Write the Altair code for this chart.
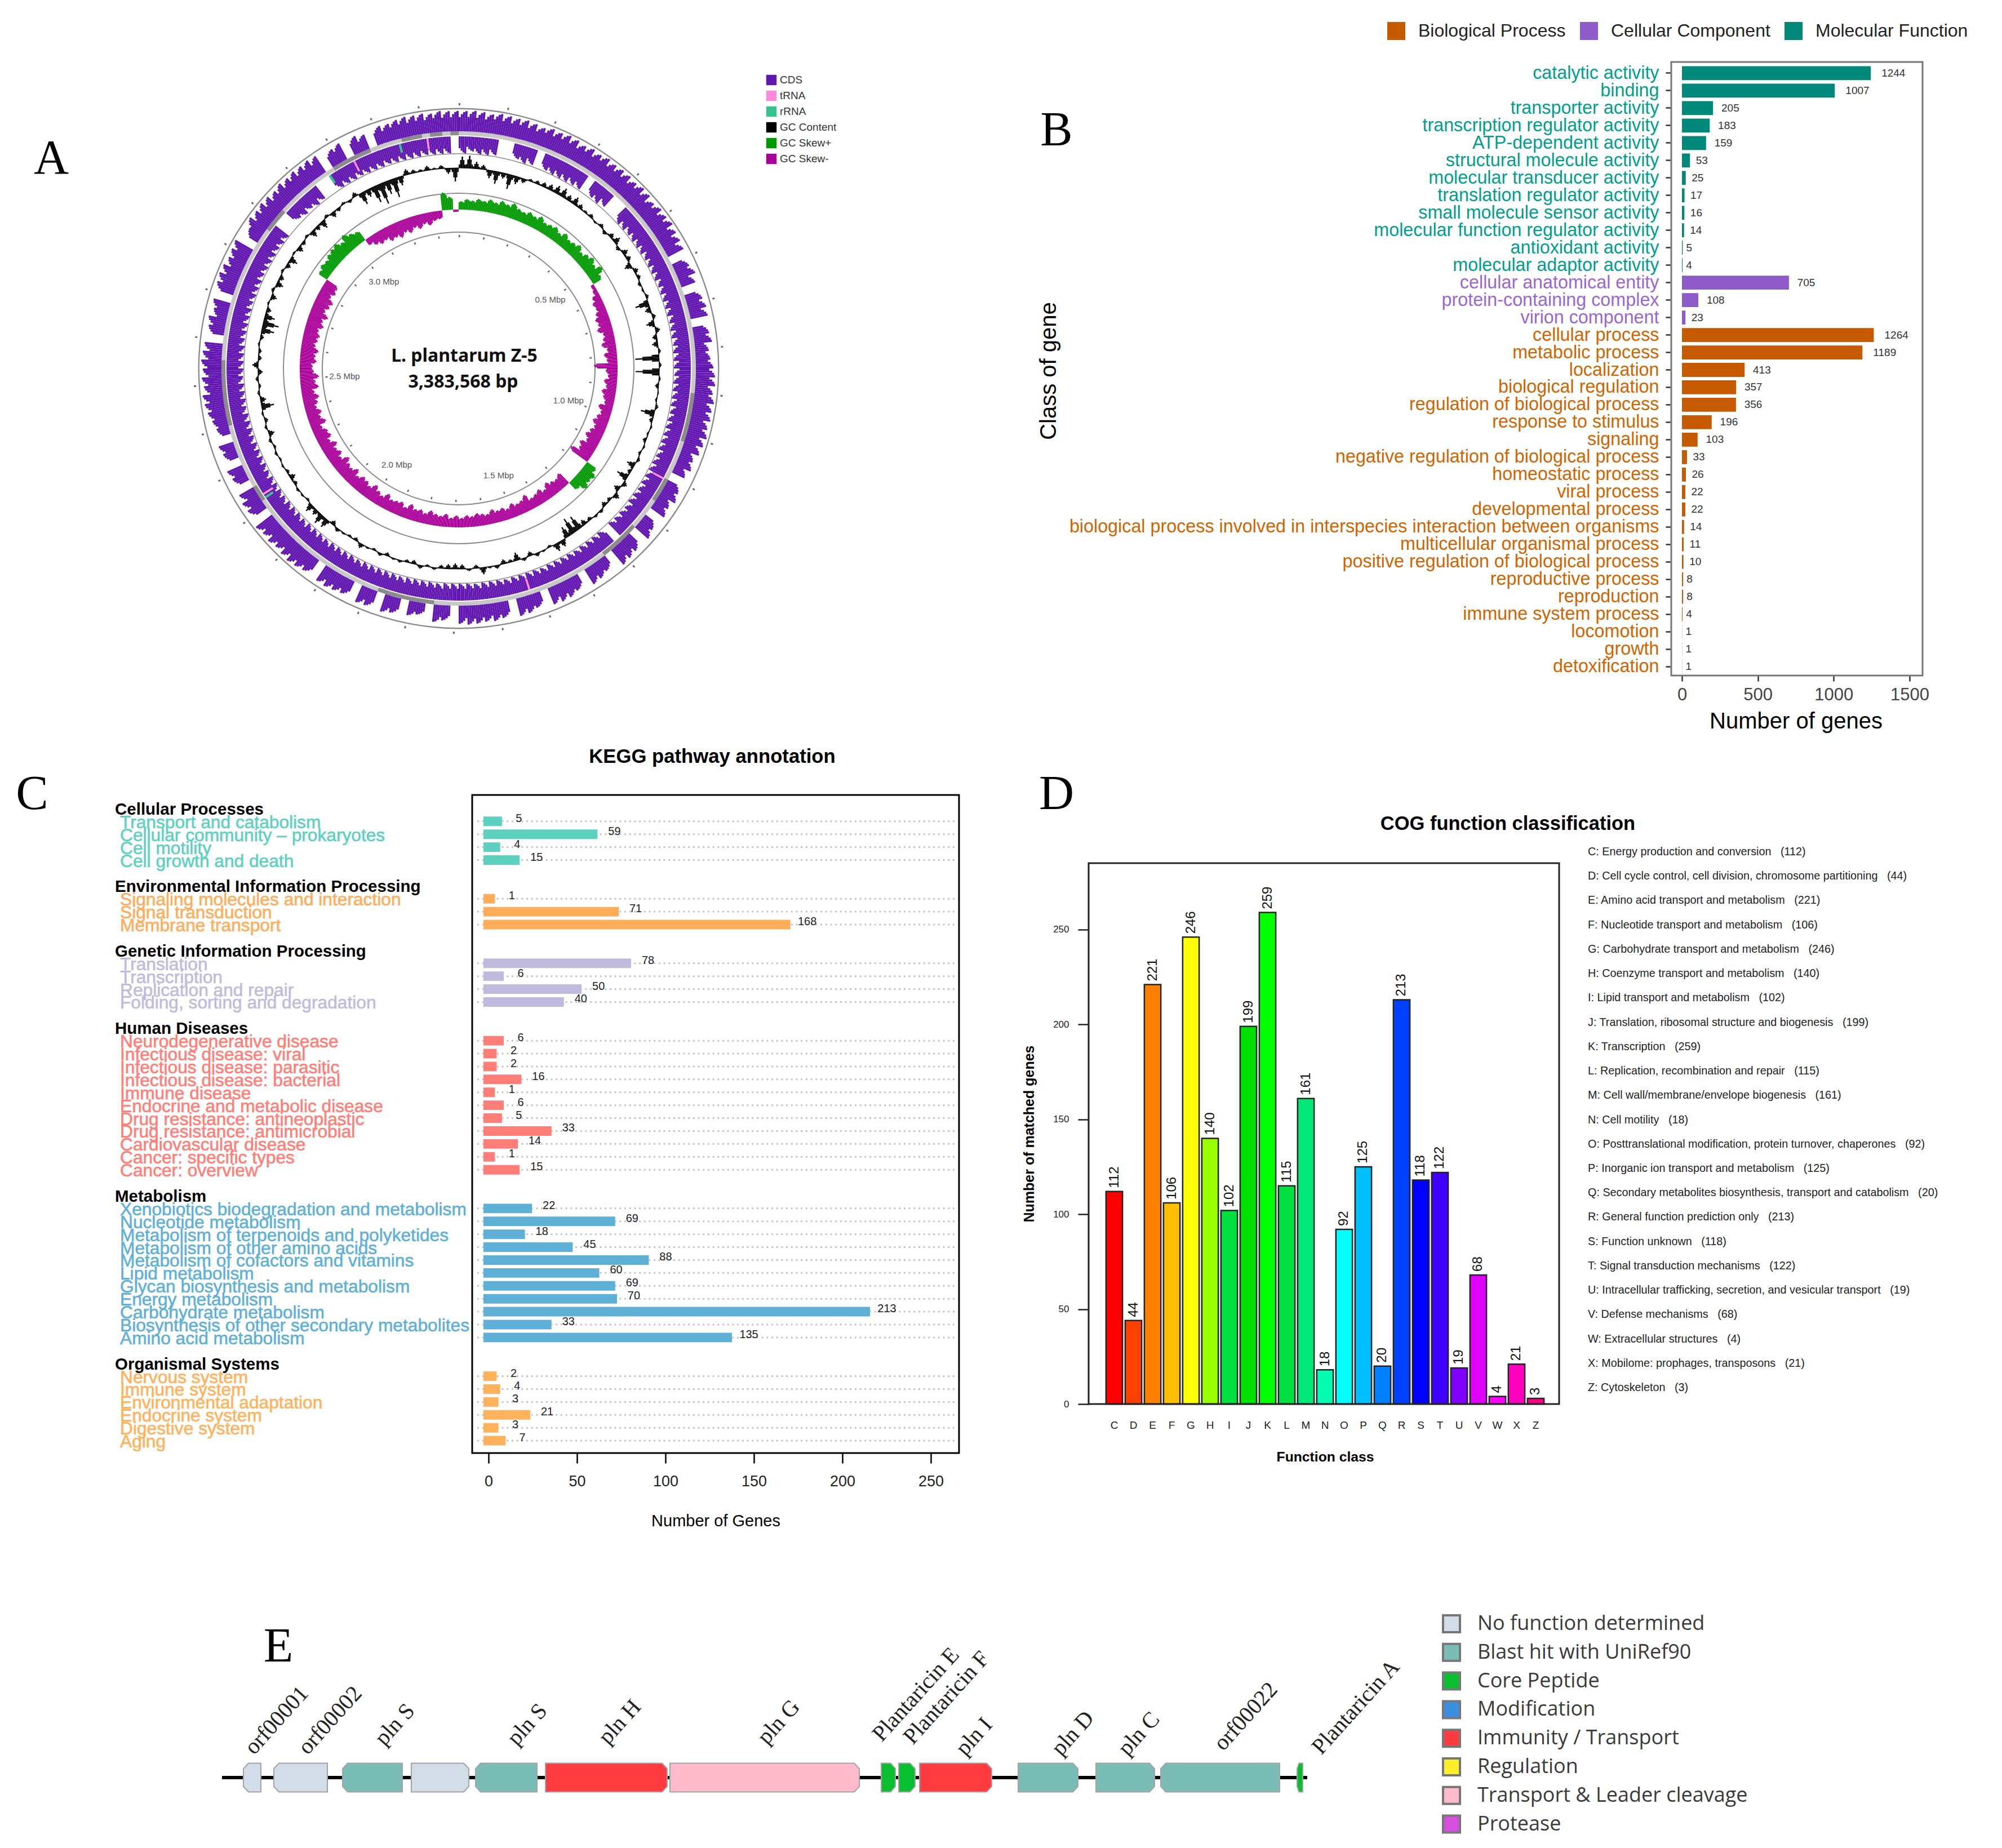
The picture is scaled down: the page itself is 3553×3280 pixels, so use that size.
import altair as alt
import pandas as pd

W, H = 3537, 3264
def P(v):
    return v - 8

SANS = "Liberation Sans"
SERIF = "Liberation Serif"

# ---------------- Panel A values (degrees clockwise from the origin)
cds_fwd = [36,37,36,34,37,36,35,36,34,32, 36,35,37,36,33,36,34,37,35,36, 36,34,37,36,32,36,35,37,34,33,
           31,0,27,32,26,0,29,32,31,0, 28,31,24,26,31,34,35,32,36,34, 35,33,36,34,32,26,29,24,0,27,
           31,26,29,0,26,31,0,30,32,34, 0,24,29,31,0,26,31,32,31,0, 26,31,32,0,29,32,31,33,34,32,
           0,27,31,0,22,26,0,29,32,0, 31,32,0,29,31,33,32,0,31,34, 36,34,32,35,33,36,0,31,32,29,
           0,26,29,0,24,27,0,22,26,31, 34,36,32,35,33,36,34,32,0,29, 32,26,31,0,34,36,35,32,34,36,
           0,26,36,34,36,35,33,36,34,36, 35,36,34,0,29,32,0,31,27,0, 32,31,34,36,35,36,34,37,36,36]
cds_rev = [30,26,30,30,28,0,0,26,30,28, 0,28,30,30,30,29,29,0,28,30, 26,0,0,30,30,29,30,30,30,29,
           30,30,30,29,30,30,30,30,29,30, 30,29,30,30,30,29,30,30,30,30, 29,30,30,30,30,30,29,30,30,30,
           30,29,30,30,28,29,29,30,0,30, 30,30,30,29,30,30,30,30,29,30, 30,30,30,29,30,30,30,29,30,30,
           30,30,29,30,30,30,30,29,30,30, 30,30,30,29,30,30,30,30,29,30, 30,30,29,30,30,30,29,30,30,30,
           29,30,30,30,30,29,30,30,30,29, 30,30,30,29,30,30,30,30,29,30, 30,30,30,29,30,30,30,29,30,30,
           30,29,30,30,0,0,24,28,26,30, 28,0,0,30,30,30,29,30,30,30, 29,30,30,30,30,29,30,30,30,0]
gc_content = [20,22,12,8,-14,-22,-10,-26,-14,-8, 4,6,8,10,14,16,10,14,8,4, 6,-3,6,-6,8,12,-6,10,8,-12,
              8,6,-5,-3,5,-24,-10,6,-14,8, -8,-10,4,-42,4,-42,3,-6,2,-3, 5,-24,-6,3,-3,-6,3,-4,5,-14,
              -6,-20,8,-10,10,-6,-8,5,4,-6, -10,-26,-30,-20,12,14,-4,3,6,-8, 5,-14,-5,-8,6,3,12,-6,4,-8,
              -10,-8,-6,4,-4,6,-7,-5,4,3, -6,5,-4,3,8,-6,-4,3,6,-8, 16,18,10,14,-4,3,4,-6,-10,-5,
              3,-3,4,-4,5,-10,4,-6,3,-22, -10,4,-4,5,-8,10,-6,-5,3,-6, -22,-28,-18,-8,3,-10,5,-12,-8,4,
              -8,-14,3,-10,-6,4,-12,-8,-14,5, -10,-6,4,-5,8,-22,-14,-30,-38,-24, -34,-16,10,6,4,8,3,6,-10,-24]
gc_skew = [14,18,16,20,18,22,19,24,21,26, 20,18,22,19,24,18,20,22,17,23, 18,20,24,17,22,26,20,28,18,-6,
           -8,-14,-18,-16,-20,-24,-22,-26,-18,-20, -24,-16,-22,-18,-40,-20,-16,-22,-18,-24,
           -20,-16,-24,-18,-22,-26,-20,-24,-28,-22, -30,-26,-38,20,26,24,28,18,-24,-20,
           -22,-26,-18,-24,-20,-18,-28,-22,-20,-24, -18,-22,-20,-24,-18,-20,-22,-18,-20,-16,
           -20,-16,-22,-18,-20,-24,-18,-22,-20,-26, -18,-24,-22,-20,-26,-18,-22,-28,-20,-24,
           -26,-20,-28,-22,-24,-30,-20,-26,-22,-28, -20,-26,-24,-18,-28,-22,-26,-20,-24,-28,
           -22,-30,-26,-32,-24,-22,-28,-26,-30,-24, -26,-28,-24,-30,-26,-32,-24,-28,-30,-22,
           -26,-24,18,22,20,24,26,28,22,30, 24,20,-12,-18,-22,-20,-26,-24,-28,-22,
           -26,-20,-24,-18,-22,-16,-14,30,22,-4]
trna_deg = [352, 333, 237, 162, 118]
rrna_deg = [345, 326, 236]
dark_backbone = [(328, 338), (346, 351), (353, 356), (358, 360), (306, 312), (256, 272),
                 (236, 240), (186, 200), (132, 142), (96, 108), (118, 124)]
scale_labels = ["0.5 Mbp", "1.0 Mbp", "1.5 Mbp", "2.0 Mbp", "2.5 Mbp", "3.0 Mbp"]
scale_mbp = [0.5, 1.0, 1.5, 2.0, 2.5, 3.0]
GENOME_MBP = 3.383568
kinds_a = ["CDS", "tRNA", "rRNA", "GC Content", "GC Skew+", "GC Skew-"]
colors_a = ["#6218B0", "#FF8ADC", "#35C48F", "#000000", "#009A00", "#AA0099"]

# ---------------- Panel B values
b_labels = ["catalytic activity","binding","transporter activity","transcription regulator activity",
    "ATP-dependent activity","structural molecule activity","molecular transducer activity",
    "translation regulator activity","small molecule sensor activity","molecular function regulator activity",
    "antioxidant activity","molecular adaptor activity","cellular anatomical entity","protein-containing complex",
    "virion component","cellular process","metabolic process","localization","biological regulation",
    "regulation of biological process","response to stimulus","signaling","negative regulation of biological process",
    "homeostatic process","viral process","developmental process",
    "biological process involved in interspecies interaction between organisms","multicellular organismal process",
    "positive regulation of biological process","reproductive process","reproduction","immune system process",
    "locomotion","growth","detoxification"]
b_values = [1244,1007,205,183,159,53,25,17,16,14,5,4,705,108,23,1264,1189,413,357,356,196,103,33,26,22,22,14,11,10,8,8,4,1,1,1]
b_groups = ["Molecular Function"]*12 + ["Cellular Component"]*3 + ["Biological Process"]*20
b_group_names = ["Biological Process", "Cellular Component", "Molecular Function"]
b_group_colors = ["#C55A00", "#8E5BC8", "#00897B"]

# ---------------- Panel C values
c_groups = [
 ("Cellular Processes", "#5DD0C0", ["Transport and catabolism","Cellular community \u2013 prokaryotes","Cell motility","Cell growth and death"], [5,59,4,15]),
 ("Environmental Information Processing", "#FFAD5B", ["Signaling molecules and interaction","Signal transduction","Membrane transport"], [1,71,168]),
 ("Genetic Information Processing", "#C0BBDD", ["Translation","Transcription","Replication and repair","Folding, sorting and degradation"], [78,6,50,40]),
 ("Human Diseases", "#FF7F78", ["Neurodegenerative disease","Infectious disease: viral","Infectious disease: parasitic","Infectious disease: bacterial","Immune disease","Endocrine and metabolic disease","Drug resistance: antineoplastic","Drug resistance: antimicrobial","Cardiovascular disease","Cancer: specific types","Cancer: overview"], [6,2,2,16,1,6,5,33,14,1,15]),
 ("Metabolism", "#5FB0D6", ["Xenobiotics biodegradation and metabolism","Nucleotide metabolism","Metabolism of terpenoids and polyketides","Metabolism of other amino acids","Metabolism of cofactors and vitamins","Lipid metabolism","Glycan biosynthesis and metabolism","Energy metabolism","Carbohydrate metabolism","Biosynthesis of other secondary metabolites","Amino acid metabolism"], [22,69,18,45,88,60,69,70,213,33,135]),
 ("Organismal Systems", "#FFB25C", ["Nervous system","Immune system","Environmental adaptation","Endocrine system","Digestive system","Aging"], [2,4,3,21,3,7]),
]

# ---------------- Panel D values
d_letters = list("CDEFGHIJKLMNOPQRSTUVWXZ")
d_values = [112,44,221,106,246,140,102,199,259,115,161,18,92,125,20,213,118,122,19,68,4,21,3]
d_colors = ["#FF0000","#FF4000","#FF8000","#FFBF00","#FFFF00","#99FF00","#00E040","#00E000","#00FF00","#00E040",
            "#00E878","#00FFB0","#00FFFF","#00BFFF","#0080FF","#0040FF","#0000FF","#4000FF","#8000FF","#DF00FF",
            "#FF00FF","#FF00BF","#FF0080"]
GAP = "\u00A0\u00A0\u00A0"
d_desc = ["C: Energy production and conversion"+GAP+"(112)",
 "D: Cell cycle control, cell division, chromosome partitioning"+GAP+"(44)",
 "E: Amino acid transport and metabolism"+GAP+"(221)","F: Nucleotide transport and metabolism"+GAP+"(106)",
 "G: Carbohydrate transport and metabolism"+GAP+"(246)","H: Coenzyme transport and metabolism"+GAP+"(140)",
 "I: Lipid transport and metabolism"+GAP+"(102)","J: Translation, ribosomal structure and biogenesis"+GAP+"(199)",
 "K: Transcription"+GAP+"(259)","L: Replication, recombination and repair"+GAP+"(115)",
 "M: Cell wall/membrane/envelope biogenesis"+GAP+"(161)","N: Cell motility"+GAP+"(18)",
 "O: Posttranslational modification, protein turnover, chaperones"+GAP+"(92)","P: Inorganic ion transport and metabolism"+GAP+"(125)",
 "Q: Secondary metabolites biosynthesis, transport and catabolism"+GAP+"(20)","R: General function prediction only"+GAP+"(213)",
 "S: Function unknown"+GAP+"(118)","T: Signal transduction mechanisms"+GAP+"(122)",
 "U: Intracellular trafficking, secretion, and vesicular transport"+GAP+"(19)","V: Defense mechanisms"+GAP+"(68)",
 "W: Extracellular structures"+GAP+"(4)","X: Mobilome: prophages, transposons"+GAP+"(21)","Z: Cytoskeleton"+GAP+"(3)"]

# ---------------- Panel E values
e_kinds = ["No function determined","Blast hit with UniRef90","Core Peptide","Modification","Immunity / Transport","Regulation","Transport & Leader cleavage","Protease"]
e_colors = ["#D3DCE9","#7ABCB6","#09BF2F","#3A8FE0","#FF3B3F","#FFEE2A","#FFBBCC","#D84FE0"]
e_start = [432,486,608,730,844,968,1189,1564,1595,1632,1807,1945,2060,2302]
e_end   = [463,581,714,832,953,1184,1525,1589,1624,1760,1913,2049,2271,2312]
e_strand = [-1,-1,-1,1,-1,1,1,1,1,1,1,1,-1,-1]
e_kind = [0,0,1,0,1,4,6,2,2,4,1,1,1,2]
e_label_names = ["orf00001","orf00002","pln S","pln S","pln H","pln G","Plantaricin E","Plantaricin F","pln I","pln D","pln C","orf00022","Plantaricin A"]
e_label_x = [451,546,682,917,1079,1361,1565,1620,1713,1883,2001,2171,2345]
e_label_lift = [39,39,55,55,57,57,62,57,37,37,37,46,39]

one = pd.DataFrame({"k": [0]})

def frame(x0, x1, y0, y1, color="black", sw=3):
    return alt.Chart(one).mark_rect(fillOpacity=0, stroke=color, strokeWidth=sw).encode(
        x=alt.value(P(x0)), x2=alt.value(P(x1)), y=alt.value(P(y0)), y2=alt.value(P(y1)))

def note(text, x, y, size, weight="normal", font=SANS, color="black", align="center", angle=0):
    return alt.Chart(one).mark_text(fontSize=size, fontWeight=weight, font=font, color=color, align=align,
                                    baseline="middle", angle=angle, x=P(x), y=P(y)).encode(text=alt.value(text))

# ---------------- Panel A
CX, CY = 814, 654
theta_scale = alt.Scale(domain=[0, 360], range=[0, 6.283185307])
rad_scale = alt.Scale(type="linear", domain=[0, 500], range=[0, 500])
rows = []
STEP = 2
SAW = [0.7, 0.85, 0.95, 1.0]          # a gene arrow's serrated edge
PEAK = [0.3, 0.7, 1.0, 0.7, 0.3]      # a sliding-window peak
JAG = [0.95, 1.05, 1.0, 0.9]          # the jagged GC-skew edge

def spread(values, shape, base, kind_of, inward=False):
    n = len(shape)
    for i, v in enumerate(values):
        if v == 0:
            continue
        for j, f in enumerate(shape):
            a = i*STEP + j*STEP/n
            b = a + STEP/n
            h = v*f
            rows.append(dict(a=a, b=b, r0=base, r1=(base-h) if inward else (base+h), kind=kind_of(v)))

spread(cds_fwd, SAW, 421, lambda v: "CDS")
spread(cds_rev, SAW, 412, lambda v: "CDS", inward=True)
spread(gc_content, PEAK, 356, lambda v: "GC Content")
spread(gc_skew, JAG, 282, lambda v: "GC Skew+" if v > 0 else "GC Skew-")
for d in trna_deg:
    rows.append(dict(a=d, b=d+0.5, r0=392, r1=412, kind="tRNA"))
for d in rrna_deg:
    rows.append(dict(a=d, b=d+0.6, r0=396, r1=412, kind="rRNA"))
arcs = pd.DataFrame(rows)

def arc_layer(df, **mark):
    return alt.Chart(df).mark_arc(x=P(CX), y=P(CY), **mark).encode(
        theta=alt.Theta("a:Q", scale=theta_scale),
        theta2="b:Q",
        radius=alt.Radius("r0:Q", scale=rad_scale),
        radius2="r1:Q")

rings = pd.DataFrame({"a": [0]*4, "b": [360]*4, "r0": [460, 380.5, 310, 241], "r1": [462.5, 382, 312, 243]})
base_ring = pd.DataFrame({"a": [0], "b": [360], "r0": [355.4], "r1": [356.6]})
backbone = pd.DataFrame({"a": [0], "b": [360], "r0": [414], "r1": [421]})
dark = pd.DataFrame({"a": [d[0] for d in dark_backbone], "b": [d[1] for d in dark_backbone],
                     "r0": 414, "r1": 421})
tick_deg = [round(k*0.1/GENOME_MBP*360, 2) for k in range(34)]
ticks_in = pd.DataFrame({"a": tick_deg, "b": [t+0.6 for t in tick_deg], "r0": 233, "r1": 237})
ticks_out = pd.DataFrame({"a": tick_deg, "b": [t+0.35 for t in tick_deg], "r0": 467, "r1": 471})
scale_text = pd.DataFrame({"t": scale_labels, "d": [m/GENOME_MBP*360 for m in scale_mbp], "r": 203})

a_panel = alt.layer(
    arc_layer(rings, color="#8A8A8A"),
    arc_layer(backbone, color="#C8C8C8"),
    arc_layer(dark, color="#8C8C8C"),
    arc_layer(ticks_in, color="#666666"),
    arc_layer(ticks_out, color="#666666"),
    arc_layer(base_ring, color="#000000"),
    alt.Chart(arcs).mark_arc(x=P(CX), y=P(CY)).encode(
        theta=alt.Theta("a:Q", scale=theta_scale),
        theta2="b:Q",
        radius=alt.Radius("r0:Q", scale=rad_scale),
        radius2="r1:Q",
        color=alt.Color("kind:N", scale=alt.Scale(domain=kinds_a, range=colors_a),
                        legend=alt.Legend(orient="none", legendX=P(1359), legendY=P(132), title=None,
                                          symbolType="square", symbolSize=340, labelFontSize=19, labelFont=SANS,
                                          labelColor="#333333", rowPadding=8, labelOffset=5, symbolOpacity=1))),
    alt.Chart(scale_text).mark_text(x=P(CX), y=P(CY), fontSize=15, font=SANS, color="#555555").encode(
        theta=alt.Theta("d:Q", scale=theta_scale),
        radius=alt.Radius("r:Q", scale=rad_scale),
        text="t:N"),
)

# ---------------- Panel B
bdf = pd.DataFrame({"label": b_labels, "value": b_values, "group": b_groups})
bdf["lx"] = [v + (1.9 + 4.3*len(str(v)))/0.2691 for v in b_values]
bx = alt.Scale(domain=[0, 1500], range=[P(2985), P(3389)])
by = alt.Scale(domain=b_labels, range=[P(112), P(1201)], paddingInner=0.2, paddingOuter=0.18)
b_label_color = ("datum.index < 0.33 ? '#009E8C' : datum.index < 0.42 ? '#9A66D0' : '#D06400'")
b_panel = alt.layer(
    frame(2966, 3412, 110, 1199, color="#777777", sw=3),
    alt.Chart(bdf).mark_bar().encode(
        x=alt.X("value:Q", scale=bx, axis=alt.Axis(orient="bottom", offset=-(H-P(1199)), grid=False, domain=False,
                 values=[0,500,1000,1500], format="d", labelFontSize=31, labelFont=SANS, labelColor="#444444", tickSize=10,
                 tickColor="#333333", tickWidth=2.5, labelPadding=9, labelAngle=0, labelFlush=False,
                 title="Number of genes", titleFontSize=40, titleFont=SANS, titleFontWeight="normal", titlePadding=12)),
        y=alt.Y("label:N", scale=by, sort=b_labels, axis=alt.Axis(orient="left", offset=-P(2966), grid=False, domain=False,
                 labelFontSize=32.3, labelFont=SANS, labelLimit=1600, tickSize=10, tickColor="#333333", tickWidth=2.5,
                 labelPadding=12, labelOverlap=False, labelColor=alt.expr(b_label_color),
                 title="Class of gene", titleFontSize=40, titleFont=SANS, titleFontWeight="normal",
                 titleX=-1085, titleY=650)),
        color=alt.Color("group:N", scale=alt.Scale(domain=b_group_names, range=b_group_colors),
                 legend=alt.Legend(orient="none", legendX=P(2461), legendY=P(38), direction="horizontal", title=None,
                                   symbolType="square", symbolSize=1024, labelFontSize=32, labelFont=SANS,
                                   labelColor="#222222", columnPadding=24, labelOffset=22, symbolOpacity=1, columns=3,
                                   labelLimit=500))),
    alt.Chart(bdf).mark_text(align="left", baseline="middle", fontSize=19, font=SANS, color="#333333").encode(
        x=alt.X("lx:Q", scale=bx), y=alt.Y("label:N", scale=by, sort=b_labels), text="value:Q"),
)

# ---------------- Panel C
c_rows, c_heads = [], []
row = 0
for head, col, names, vals in c_groups:
    c_heads.append(dict(label=head, row=row))
    row += 1
    for n, v in zip(names, vals):
        c_rows.append(dict(label=n, value=v, row=row, color=col))
        row += 1
    row += 1
cdf = pd.DataFrame(c_rows)
chd = pd.DataFrame(c_heads)
cdf["start"] = -2.9
cdf["end"] = cdf["value"] + 2.6
cdf["y0"] = cdf["row"] - 0.37
cdf["y1"] = cdf["row"] + 0.37
cx = alt.Scale(domain=[0, 250], range=[P(867), P(1652)])
cy = alt.Scale(domain=[-1, 50], range=[P(1412), P(2580)])
c_panel = alt.layer(
    alt.Chart(cdf).mark_rule(strokeDash=[3, 5.7], color="#C4C4C4", strokeWidth=3, x=P(847), x2=P(1698)).encode(
        y=alt.Y("row:Q", scale=cy, axis=None)),
    alt.Chart(cdf).mark_rect().encode(
        x=alt.X("start:Q", scale=cx, axis=alt.Axis(orient="bottom", offset=-(H-P(2579)), grid=False, domain=False,
                 values=[0,50,100,150,200,250], labelFontSize=27, labelFont=SANS, labelColor="#222222", tickSize=18,
                 tickColor="black", tickWidth=2.5, labelPadding=19, labelAngle=0, labelFlush=False,
                 title="Number of Genes", titleFontSize=29, titleFont=SANS, titleFontWeight="normal", titlePadding=43,
                 titleX=P(1270))),
        x2="end:Q",
        y=alt.Y("y0:Q", scale=cy, axis=None), y2="y1:Q",
        color=alt.Color("color:N", scale=None)),
    alt.Chart(cdf).mark_text(baseline="middle", dx=30, dy=-5, fontSize=20, font=SANS, color="#222222").encode(
        x=alt.X("end:Q", scale=cx), y=alt.Y("row:Q", scale=cy, axis=None), text="value:Q"),
    alt.Chart(cdf).mark_text(align="left", baseline="middle", dy=2, x=P(213), fontSize=31.7, font=SANS, strokeWidth=0.6).encode(
        y=alt.Y("row:Q", scale=cy, axis=None), text="label:N",
        color=alt.Color("color:N", scale=None), stroke=alt.Stroke("color:N", scale=None)),
    alt.Chart(chd).mark_text(align="left", baseline="middle", dy=2, x=P(204), fontSize=29.5, font=SANS, fontWeight="bold", color="black").encode(
        y=alt.Y("row:Q", scale=cy, axis=None), text="label:N"),
    frame(838, 1702, 1411, 2579, sw=3),
)

# ---------------- Panel D
ddf = pd.DataFrame({"letter": d_letters, "value": d_values, "color": d_colors})
dx = alt.Scale(domain=d_letters, range=[P(1934), P(2769)], paddingInner=0.14, paddingOuter=0.85)
dy = alt.Scale(domain=[0, 285], range=[P(2492), P(1532)])
d_panel = alt.layer(
    alt.Chart(ddf).mark_bar(stroke="#222222", strokeWidth=2.5).encode(
        x=alt.X("letter:N", scale=dx, sort=d_letters, axis=alt.Axis(orient="bottom", offset=-(H-P(2492)), grid=False, domain=False,
                 ticks=False, labelAngle=0, labelFontSize=19, labelFont=SANS, labelColor="#222222", labelPadding=28,
                 title="Function class", titleFontSize=24.7, titleFont=SANS, titleFontWeight="bold", titlePadding=34)),
        y=alt.Y("value:Q", scale=dy, axis=alt.Axis(orient="left", offset=-P(1932), grid=False, domain=False,
                 values=[0,50,100,150,200,250], labelFontSize=17, labelFont=SANS, labelColor="#222222",
                 tickSize=19, tickColor="#222222", tickWidth=2.5, labelPadding=16, labelFlush=False,
                 title="Number of matched genes", titleFontSize=25, titleFont=SANS, titleFontWeight="bold",
                 titleX=-93)),
        color=alt.Color("color:N", scale=None)),
    alt.Chart(ddf).mark_text(angle=270, align="left", baseline="middle", dx=6, fontSize=24, font=SANS, color="#111111").encode(
        x=alt.X("letter:N", scale=dx, sort=d_letters), y=alt.Y("value:Q", scale=dy), text="value:Q"),
    frame(1932, 2767, 1532, 2492, color="#222222", sw=3),
)
desc = pd.DataFrame({"t": d_desc, "row": list(range(len(d_desc)))})
d_list = alt.Chart(desc).mark_text(align="left", baseline="middle", x=P(2818), fontSize=19.8, font=SANS, color="#222222").encode(
    y=alt.Y("row:Q", scale=alt.Scale(domain=[0, 22], range=[P(1512), P(2463)]), axis=None), text="t:N")

# ---------------- Panel E
ex = alt.Scale(domain=[394, 2320], range=[P(394), P(2320)])
ey = alt.Scale(domain=[-100, 100], range=[P(3055), P(3255)])
HALF, TIP = 25.5, 9
verts = []
for n, (s, e, st, k) in enumerate(zip(e_start, e_end, e_strand, e_kind)):
    t = min(TIP, (e - s) / 3)
    if st > 0:
        shape = [(s, HALF), (e - t, HALF), (e, HALF * 0.62)]
    else:
        shape = [(s, HALF * 0.62), (s + t, HALF), (e, HALF)]
    for x, h in shape:
        verts.append(dict(x=x, top=-h, bottom=h, gene=n, kind=e_kinds[k]))
vdf = pd.DataFrame(verts)
bline = pd.DataFrame({"a": [394], "b": [2320], "y": [0]})
elab = pd.DataFrame({"t": e_label_names, "x": e_label_x, "y": [-v for v in e_label_lift]})
e_panel = alt.layer(
    alt.Chart(bline).mark_rule(color="black", strokeWidth=6).encode(
        x=alt.X("a:Q", scale=ex, axis=None), x2="b:Q", y=alt.Y("y:Q", scale=ey, axis=None)),
    alt.Chart(vdf).mark_area(stroke="#A3A3A3", strokeWidth=2, interpolate="linear").encode(
        x=alt.X("x:Q", scale=ex, axis=None),
        y=alt.Y("top:Q", scale=ey, axis=None), y2="bottom:Q",
        detail="gene:N",
        color=alt.Color("kind:N", scale=alt.Scale(domain=e_kinds, range=e_colors),
                 legend=alt.Legend(orient="none", legendX=P(2558), legendY=P(2864), title=None, symbolType="square",
                                   symbolSize=900, symbolStrokeColor="#777777", symbolStrokeWidth=4, labelFontSize=36,
                                   labelFont="Open Sans", labelColor="#3A3A3A", rowPadding=4.8, labelOffset=28,
                                   labelLimit=700, symbolOpacity=1))),
    alt.Chart(elab).mark_text(angle=312, align="left", baseline="alphabetic", fontSize=40, font=SERIF, color="#222222").encode(
        x=alt.X("x:Q", scale=ex, axis=None), y=alt.Y("y:Q", scale=ey, axis=None), text="t:N"),
)

# ---------------- Free text
notes = alt.layer(
    note("A", 91, 282, 86, font=SERIF),
    note("B", 1875, 232, 86, font=SERIF),
    note("C", 57, 1410, 86, font=SERIF),
    note("D", 1875, 1410, 86, font=SERIF),
    note("E", 494, 2923, 86, font=SERIF),
    note("L. plantarum Z-5", 824, 632, 32, weight="bold", font="Noto Sans", color="#111111"),
    note("3,383,568 bp", 822, 678, 32, weight="bold", font="Noto Sans", color="#111111"),
    note("KEGG pathway annotation", 1264, 1344, 34.7, weight="bold"),
    note("COG function classification", 2676, 1463, 34.5, weight="bold"),
)

chart = alt.layer(a_panel, b_panel, c_panel, d_panel, d_list, e_panel, notes).resolve_scale(
    x="independent", y="independent", color="independent"
).properties(width=W, height=H, padding=0, background="white").configure_view(stroke=None)

chart.save("out.html", embed_options={"renderer": "svg", "actions": False})
